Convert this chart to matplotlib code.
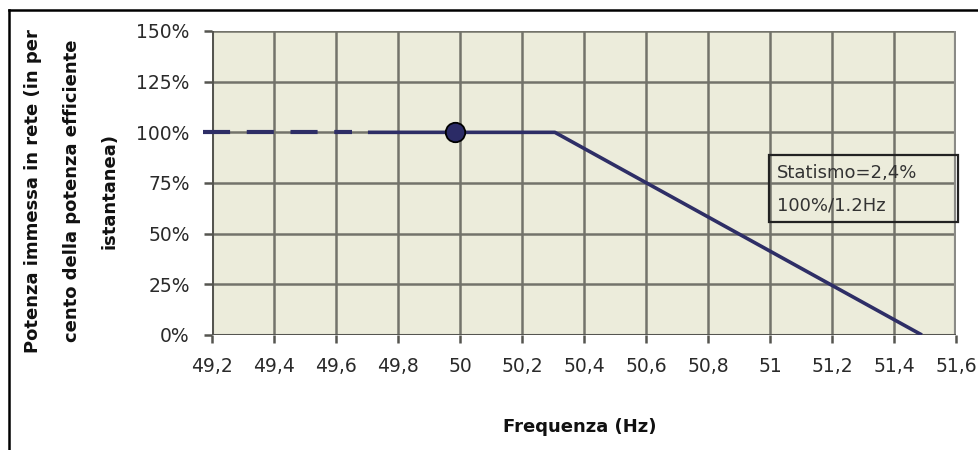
import matplotlib
matplotlib.use("Agg")
import matplotlib.pyplot as plt
from matplotlib.patches import Rectangle
from matplotlib.lines import Line2D

# Data
dashed_x = [49.17, 49.652]
dashed_y = [1.0, 1.0]
solid_x = [49.703, 50.306, 51.49]
solid_y = [1.0, 1.0, 0.0]
marker_x = [49.985]
marker_y = [1.0]
x_ticks = [49.2, 49.4, 49.6, 49.8, 50.0, 50.2, 50.4, 50.6, 50.8, 51.0, 51.2, 51.4, 51.6]
x_labels = ["49,2", "49,4", "49,6", "49,8", "50", "50,2", "50,4", "50,6", "50,8", "51", "51,2", "51,4", "51,6"]
y_ticks = [0, 0.25, 0.5, 0.75, 1.0, 1.25, 1.5]
y_labels = ["0%", "25%", "50%", "75%", "100%", "125%", "150%"]
box_lines = ["Statismo=2,4%", "100%/1.2Hz"]

W, H = 979, 450
fig = plt.figure(figsize=(W / 100, H / 100), dpi=100)
fig.patch.set_facecolor("white")

ax = fig.add_axes([212 / W, 1 - 335 / H, (956 - 212) / W, (335 - 31) / H])
ax.set_facecolor("#ECECDB")
ax.set_xlim(49.2, 51.6)
ax.set_ylim(0, 1.5)

grid_c = "#73736B"
for xv in x_ticks:
    ax.axvline(xv, color=grid_c, lw=1.8, zorder=1)
for yv in y_ticks:
    ax.axhline(yv, color=grid_c, lw=1.8, zorder=1)

for s in ax.spines.values():
    s.set_visible(False)
ax.axvline(49.2, color="#555550", lw=2.2, zorder=2)
ax.axhline(0, color="#555550", lw=2.2, zorder=2)
ax.axvline(51.6, color="#8A8A86", lw=3.0, zorder=1)

ax.set_xticks(x_ticks)
ax.set_xticklabels(x_labels)
ax.set_yticks(y_ticks)
ax.set_yticklabels(y_labels)
ax.tick_params(axis="x", direction="out", length=6, width=1.8, color="#555550",
               labelsize=13.5, labelcolor="#2a2a2a", pad=10)
ax.tick_params(axis="y", direction="out", length=6, width=1.8, color="#555550",
               labelsize=13.5, labelcolor="#2a2a2a", pad=10)

line_c = "#2E2E66"
ax.plot(dashed_x, dashed_y, color=line_c, lw=3.0, dashes=(6.5, 4.0),
        dash_capstyle="butt", clip_on=False, zorder=3)
ax.plot(solid_x, solid_y, color=line_c, lw=2.6, zorder=3, solid_capstyle="butt")
ax.plot(marker_x, marker_y, "o", ms=14, color="#2B2B66", mec="black", mew=1.3, zorder=4)

# annotation box
ax.add_patch(Rectangle((50.997, 0.557), 51.606 - 50.997, 0.888 - 0.557, fill=False,
                       ec="#222222", lw=1.6, clip_on=False, zorder=5))
ax.text(51.023, 0.801, box_lines[0], fontsize=13, color="#333333", va="center", ha="left", zorder=6)
ax.text(51.023, 0.639, box_lines[1], fontsize=13, color="#333333", va="center", ha="left", zorder=6)

# axis labels
fig.text(580 / W, 1 - 427 / H, "Frequenza (Hz)", fontsize=13, fontweight="bold",
         ha="center", va="center", color="#111111")
ylab = ["Potenza immessa in rete (in per", "cento della potenza efficiente", "istantanea)"]
for xp, t in zip([33, 72, 110], ylab):
    fig.text(xp / W, 1 - 191 / H, t, rotation=90, fontsize=13, fontweight="bold",
             ha="center", va="center", color="#111111")

# figure border
fig.add_artist(Line2D([9 / W, 1.0], [1 - 10 / H, 1 - 10 / H], color="black", lw=1.8,
                      transform=fig.transFigure))
fig.add_artist(Line2D([9 / W, 9 / W], [0, 1 - 10 / H], color="black", lw=1.8,
                      transform=fig.transFigure))

fig.savefig("out.png", dpi=100)
